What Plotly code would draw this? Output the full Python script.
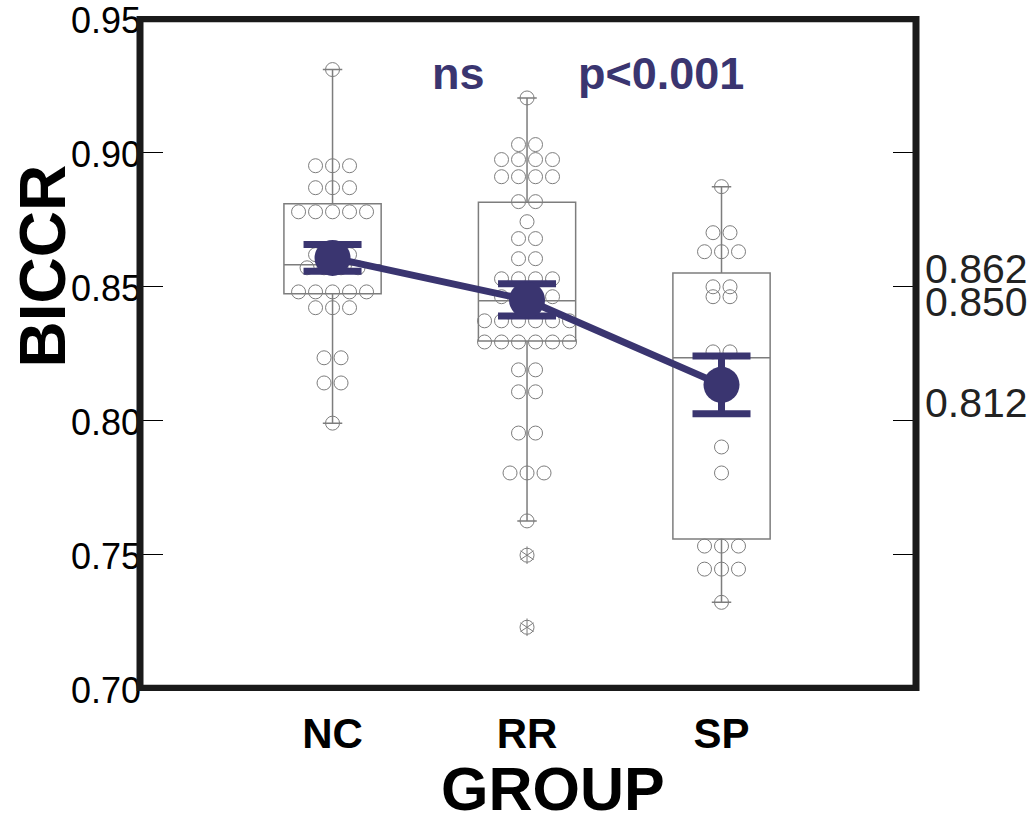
import plotly.graph_objects as go
from collections import Counter

# ---------------- data ----------------
groups = ["NC", "RR", "SP"]
group_pos = [0, 1, 2]

nc_values = [0.9310,
             0.8951, 0.8951, 0.8951,
             0.8869, 0.8869, 0.8869,
             0.8779, 0.8779, 0.8779, 0.8779, 0.8779,
             0.8619, 0.8619, 0.8619,
             0.8570, 0.8570, 0.8570, 0.8570,
             0.8480, 0.8480, 0.8480, 0.8480, 0.8480,
             0.8421, 0.8421, 0.8421,
             0.8234, 0.8234,
             0.8140, 0.8140,
             0.7990]
rr_values = [0.9204,
             0.9030, 0.9030,
             0.8974, 0.8974, 0.8974, 0.8974,
             0.8910, 0.8910, 0.8910, 0.8910,
             0.8817, 0.8817,
             0.8742,
             0.8679, 0.8679,
             0.8604, 0.8604,
             0.8529, 0.8529, 0.8529, 0.8529,
             0.8462, 0.8462, 0.8462, 0.8462,
             0.8372, 0.8372, 0.8372, 0.8372, 0.8372, 0.8372,
             0.8293, 0.8293, 0.8293, 0.8293, 0.8293, 0.8293,
             0.8189, 0.8189,
             0.8107, 0.8107,
             0.7953, 0.7953,
             0.7804, 0.7804, 0.7804,
             0.7625]
rr_outliers = [0.7497, 0.7228]
sp_values = [0.8873,
             0.8701, 0.8701,
             0.8630, 0.8630, 0.8630,
             0.8499, 0.8499,
             0.8462, 0.8462,
             0.8256, 0.8256,
             0.7901,
             0.7804,
             0.7531, 0.7531, 0.7531,
             0.7445, 0.7445, 0.7445,
             0.7321]

box_q1 = [0.8473, 0.8297, 0.7557]
box_median = [0.8581, 0.8447, 0.8234]
box_q3 = [0.8809, 0.8815, 0.8551]
box_lower = [0.7990, 0.7625, 0.7321]
box_upper = [0.9310, 0.9204, 0.8873]

means = [0.8607, 0.8450, 0.8133]
mean_err = [0.0050, 0.0060, 0.0108]
mean_labels = ["0.862", "0.850", "0.812"]

sig_texts = ["ns", "p<0.001"]
sig_x = [0.65, 1.69]
sig_y = 0.9295

yticks = [0.70, 0.75, 0.80, 0.85, 0.90, 0.95]
y_min, y_max = 0.70, 0.95

# ---------------- styling ----------------
NAVY = "#3a3570"
GRAY = "#7d7d7d"
FONT = "Liberation Sans, Arial, sans-serif"
DOT_STEP = 0.0874
PAD = 0.001          # small range padding so end ticks are kept
PX_PER_UNIT = 669 / (y_max - y_min)
pad_px = PAD * PX_PER_UNIT


def swarm(center, values):
    counts = Counter(values)
    xs, ys = [], []
    for v, n in counts.items():
        for i in range(n):
            xs.append(center + (i - (n - 1) / 2) * DOT_STEP)
            ys.append(v)
    return xs, ys


fig = go.Figure()

# boxes
fig.add_trace(go.Box(
    x=group_pos, q1=box_q1, median=box_median, q3=box_q3,
    lowerfence=box_lower, upperfence=box_upper,
    width=0.5, whiskerwidth=0.2, boxpoints=False,
    fillcolor="rgba(0,0,0,0)", line=dict(color=GRAY, width=1.5),
    showlegend=False, hoverinfo="skip"))

# dots
for pos, vals in zip(group_pos, [nc_values, rr_values, sp_values]):
    xs, ys = swarm(pos, vals)
    fig.add_trace(go.Scatter(
        x=xs, y=ys, mode="markers",
        marker=dict(symbol="circle-open", size=14, color=GRAY,
                    line=dict(width=1, color=GRAY)),
        showlegend=False, hoverinfo="skip"))

# outliers (circle with asterisk)
ox = [group_pos[1]] * len(rr_outliers)
for sym, sz in [("circle-open", 14), ("y-up-open", 11), ("y-down-open", 11)]:
    fig.add_trace(go.Scatter(
        x=ox, y=rr_outliers, mode="markers",
        marker=dict(symbol=sym, size=sz, color=GRAY,
                    line=dict(width=1, color=GRAY)),
        showlegend=False, hoverinfo="skip"))

# means with error bars
fig.add_trace(go.Scatter(
    x=group_pos, y=means, mode="lines+markers",
    line=dict(color=NAVY, width=7),
    marker=dict(symbol="circle", size=36, color=NAVY),
    error_y=dict(type="data", array=mean_err, visible=True,
                 color=NAVY, thickness=7, width=29),
    showlegend=False, hoverinfo="skip"))

annotations = []
for t, x in zip(sig_texts, sig_x):
    annotations.append(dict(x=x, y=sig_y, xref="x", yref="y", text=t,
                            showarrow=False, xanchor="center", yanchor="middle",
                            font=dict(family=FONT, size=45, color=NAVY, weight="bold")))
for lab in mean_labels:
    annotations.append(dict(x=1.009, y=float(lab), xref="paper", yref="y",
                            text=lab, showarrow=False, xanchor="left",
                            yanchor="middle", yshift=-15,
                            font=dict(family=FONT, size=41, color="#222222")))
annotations.append(dict(x=-0.125, y=0.629, xref="paper", yref="paper",
                        text="BICCR", textangle=-90, showarrow=False,
                        xanchor="center", yanchor="middle",
                        font=dict(family=FONT, size=64, color="black", weight="bold")))
annotations.append(dict(x=0.532, y=0.0, xref="paper", yref="paper",
                        text="GROUP", showarrow=False,
                        xanchor="center", yanchor="top", yshift=-62,
                        font=dict(family=FONT, size=61, color="black", weight="bold")))

fig.update_layout(
    width=1034, height=817,
    margin=dict(l=140, r=118, t=19 - pad_px, b=129 - pad_px, autoexpand=False),
    paper_bgcolor="white", plot_bgcolor="white",
    annotations=annotations,
    shapes=[dict(type="rect", xref="paper", yref="y", x0=0, x1=1,
                 y0=y_min, y1=y_max,
                 line=dict(color="#1a1a1a", width=7), layer="above")],
    xaxis=dict(range=[-0.99, 3.0], tickvals=group_pos, ticktext=groups,
               showgrid=False, zeroline=False, ticks="", showline=False,
               automargin=False,
               tickfont=dict(family=FONT, size=42, color="black", weight="bold"),
               ticklabelstandoff=14),
    yaxis=dict(range=[y_min - PAD, y_max + PAD], tickvals=yticks,
               ticktext=["%.2f" % v for v in yticks],
               showgrid=False, zeroline=False, showline=False,
               automargin=False,
               mirror="ticks", ticks="inside", ticklen=23,
               tickwidth=1, tickcolor="black",
               tickfont=dict(family=FONT, size=36, color="black"),
               ticklabeloverflow="allow",
               ticklabelshift=2, ticklabelstandoff=-2),
)

fig.write_html("out.html", config={"displayModeBar": False})
